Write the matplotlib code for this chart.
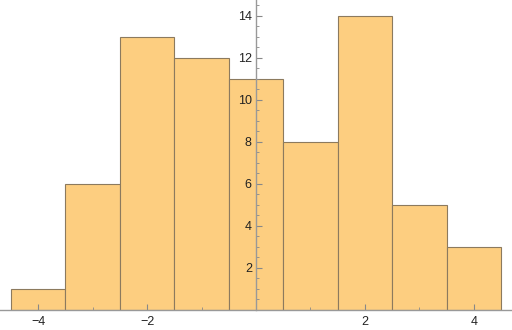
import matplotlib
matplotlib.use("Agg")
import matplotlib.pyplot as plt
from matplotlib.ticker import MultipleLocator

bin_centers = [-4, -3, -2, -1, 0, 1, 2, 3, 4]
counts = [1, 6, 13, 12, 11, 8, 14, 5, 3]
x_ticks = [-4, -2, 2, 4]
y_ticks = [2, 4, 6, 8, 10, 12, 14]

plt.rcParams['font.family'] = ['Liberation Sans', 'DejaVu Sans']
fig = plt.figure(figsize=(5.12, 3.30), dpi=100)
ax = fig.add_axes([0, 20/330, 1, 310/330])
ax.bar(bin_centers, counts, width=1.0, color='#FDCE80', edgecolor='#8C7A5E', linewidth=0.8, zorder=1)
ax.set_xlim(-4.70, 4.70)
ax.set_ylim(0, 14.76)

for s in ['top', 'right']:
    ax.spines[s].set_visible(False)
ax.spines['left'].set_position(('data', 0))
ax.spines['bottom'].set_position(('data', 0))
for s in ['left', 'bottom']:
    ax.spines[s].set_color('#999999')
    ax.spines[s].set_linewidth(1.0)
    ax.spines[s].set_zorder(3)

ax.set_xticks(x_ticks)
ax.set_yticks(y_ticks)
ax.xaxis.set_minor_locator(MultipleLocator(1))
ax.yaxis.set_minor_locator(MultipleLocator(0.5))
ax.tick_params(axis='both', which='major', direction='in', length=4, width=0.8, color='#888888', labelsize=9, labelcolor='#222222')
ax.tick_params(axis='both', which='minor', direction='in', length=2.5, width=0.6, color='#888888')
ax.tick_params(axis='x', pad=4)
ax.tick_params(axis='y', pad=3)

fig.savefig('out.png', dpi=100)
